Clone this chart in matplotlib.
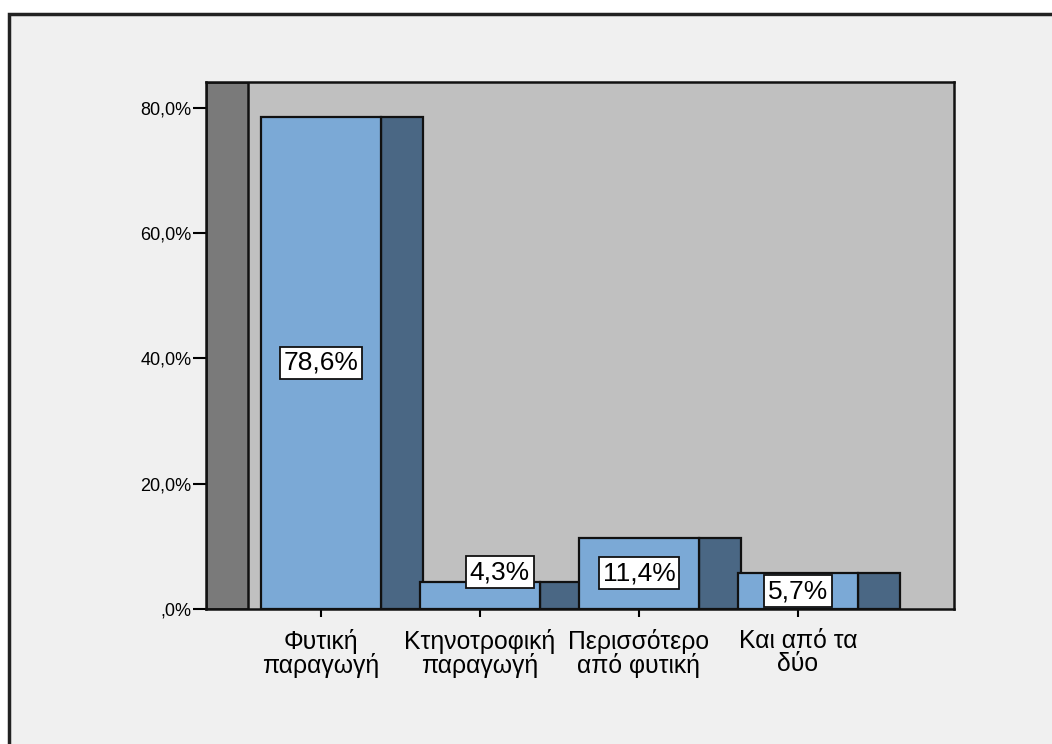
import matplotlib
matplotlib.use("Agg")
import matplotlib.pyplot as plt
from matplotlib.patches import Rectangle

categories = ["Φυτική\nπαραγωγή", "Κτηνοτροφική\nπαραγωγή", "Περισσότερο\nαπό φυτική", "Και από τα\nδύο"]
values = [78.6, 4.3, 11.4, 5.7]
value_labels = ["78,6%", "4,3%", "11,4%", "5,7%"]
yticks = [0, 20, 40, 60, 80]
ytick_labels = [",0%", "20,0%", "40,0%", "60,0%", "80,0%"]

plt.rcParams['font.family'] = ['Liberation Sans', 'DejaVu Sans']

W, H = 1052, 744
fig = plt.figure(figsize=(W / 100, H / 100), dpi=100)
fig.patch.set_facecolor("white")

# outer frame
frame = Rectangle((9 / W, -0.05), 1.1, (H - 14) / H + 0.05, transform=fig.transFigure,
                  facecolor="#F0F0F0", edgecolor="#222222", linewidth=2.5, zorder=-10)
fig.patches.append(frame)

ax = fig.add_axes([206 / W, (H - 609) / H, 748 / W, 527 / H])
ax.set_zorder(5)
ax.set_facecolor("#C0C0C0")
ymax = 527 / 6.2625
ax.set_ylim(0, ymax)
xa = -0.723
xw = -0.459
x1 = 3.981
ax.set_xlim(xa, x1)
for s in ax.spines.values():
    s.set_linewidth(1.8)
    s.set_color("#111111")
    s.set_zorder(30)

front_w = 0.75
side_w = 0.264
front_col = "#7BA9D6"
side_col = "#4A6784"

# left wall
wall = Rectangle((xa, 0), xw - xa, ymax, facecolor="#7A7A7A", edgecolor="#111111",
                 linewidth=1.8, zorder=1)
ax.add_patch(wall)

for i, v in enumerate(values):
    side = Rectangle((i + front_w / 2, 0), side_w, v, facecolor=side_col,
                     edgecolor="#111111", linewidth=1.6, zorder=2 + i * 2)
    ax.add_patch(side)
    front = Rectangle((i - front_w / 2, 0), front_w, v, facecolor=front_col,
                      edgecolor="#111111", linewidth=1.6, zorder=3 + i * 2)
    ax.add_patch(front)

label_x = [float(i) for i in range(len(values))]
label_x[1] += 0.125
label_y = [v / 2 for v in values]
label_y[1] = 5.9
for lx, ly, t in zip(label_x, label_y, value_labels):
    ax.text(lx, ly, t, ha="center", va="center", fontsize=19, zorder=20,
            bbox=dict(boxstyle="square,pad=0.15", facecolor="white", edgecolor="#111111", linewidth=1.3))

ax.set_yticks(yticks)
ax.set_yticklabels(ytick_labels, fontsize=13)
ax.set_xticks(range(len(categories)))
ax.set_xticklabels(categories, fontsize=17.8, linespacing=0.92)
ax.tick_params(axis="y", length=9.4, width=1.5, pad=1)
ax.tick_params(axis="x", length=6, width=1.5, pad=8.5)

fig.savefig("out.png", dpi=100, facecolor=fig.get_facecolor())
